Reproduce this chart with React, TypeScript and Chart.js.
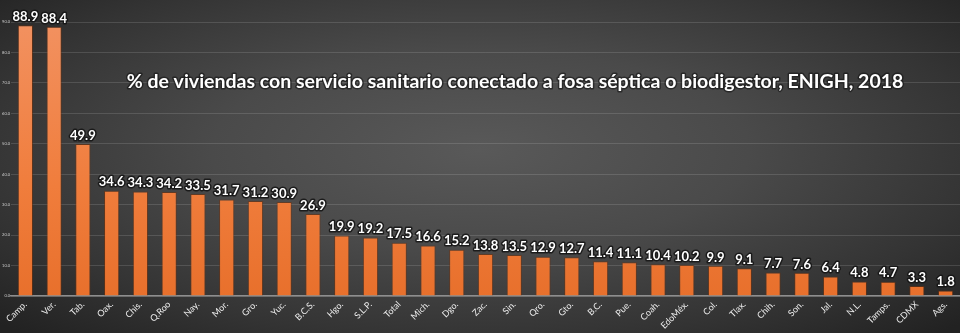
import { useEffect, useRef } from 'react';
import { Chart, registerables } from 'chart.js';

Chart.register(...registerables);

const categories = [
  'Camp.', 'Ver.', 'Tab.', 'Oax.', 'Chis.', 'Q.Roo', 'Nay.', 'Mor.', 'Gro.', 'Yuc.', 'B.C.S.',
  'Hgo.', 'S.L.P.', 'Total', 'Mich.', 'Dgo.', 'Zac.', 'Sin.', 'Qro.', 'Gto.', 'B.C.', 'Pue.',
  'Coah.', 'EdoMéx.', 'Col.', 'Tlax.', 'Chih.', 'Son.', 'Jal.', 'N.L.', 'Tamps.', 'CDMX', 'Ags.',
];
const values = [
  88.9, 88.4, 49.9, 34.6, 34.3, 34.2, 33.5, 31.7, 31.2, 30.9, 26.9,
  19.9, 19.2, 17.5, 16.6, 15.2, 13.8, 13.5, 12.9, 12.7, 11.4, 11.1,
  10.4, 10.2, 9.9, 9.1, 7.7, 7.6, 6.4, 4.8, 4.7, 3.3, 1.8,
];
const yMin = 0;
const yMax = 90;
const yStep = 10;
const title = '% de viviendas con servicio sanitario conectado a fosa séptica o biodigestor, ENIGH, 2018';

const FONT = 'Lato, "Open Sans", sans-serif';

const labelPlugin = {
  id: 'valueLabels',
  afterDatasetsDraw(chart: any) {
    const ctx = chart.ctx;
    const meta = chart.getDatasetMeta(0);
    ctx.save();
    ctx.font = `bold 13px ${FONT}`;
    ctx.textAlign = 'center';
    ctx.textBaseline = 'bottom';
    meta.data.forEach((bar: any, i: number) => {
      const txt = values[i].toFixed(1);
      ctx.lineJoin = 'round';
      ctx.lineWidth = 3;
      ctx.strokeStyle = 'rgba(20,20,20,0.85)';
      ctx.strokeText(txt, bar.x, bar.y - 2);
      ctx.fillStyle = '#ffffff';
      ctx.fillText(txt, bar.x, bar.y - 2);
    });
    ctx.restore();
  },
};

const titlePlugin = {
  id: 'titleText',
  afterDraw(chart: any) {
    const ctx = chart.ctx;
    ctx.save();
    ctx.font = `bold 19.5px ${FONT}`;
    ctx.textAlign = 'center';
    ctx.textBaseline = 'middle';
    ctx.lineJoin = 'round';
    ctx.lineWidth = 3;
    ctx.strokeStyle = 'rgba(20,20,20,0.6)';
    ctx.strokeText(title, 515, 82);
    ctx.fillStyle = '#ffffff';
    ctx.fillText(title, 515, 82);
    ctx.restore();
  },
};

export default function App() {
  const ref = useRef<HTMLCanvasElement | null>(null);

  useEffect(() => {
    document.body.style.margin = '0';
    const canvas = ref.current;
    if (!canvas) return;
    const chart = new Chart(canvas, {
      type: 'bar',
      data: {
        labels: categories,
        datasets: [
          {
            data: values,
            backgroundColor: (c: any) => {
              const area = c.chart.chartArea;
              if (!area) return '#ee7d3b';
              const g = c.chart.ctx.createLinearGradient(0, area.top, 0, area.bottom);
              g.addColorStop(0, '#f29160');
              g.addColorStop(0.6, '#f07d3c');
              g.addColorStop(1, '#e8702c');
              return g;
            },
            borderColor: 'rgba(120,50,10,0.55)',
            borderWidth: 1,
            categoryPercentage: 1,
            barPercentage: 0.53,
          },
        ],
      },
      options: {
        responsive: false,
        animation: false,
        layout: { padding: { top: 22, right: 0, left: 0, bottom: 0 } },
        plugins: {
          legend: { display: false },
          tooltip: { enabled: false },
          title: { display: false },
        },
        scales: {
          x: {
            grid: { display: false, drawTicks: false },
            border: { display: true, color: '#8e8e8e', width: 1.5 },
            ticks: {
              color: '#ececec',
              font: { family: FONT, size: 9 },
              minRotation: 45,
              maxRotation: 45,
              autoSkip: false,
              padding: 3,
            },
            afterFit: (s: any) => {
              s.height = 37;
            },
          },
          y: {
            min: yMin,
            max: yMax,
            grid: { color: 'rgba(255,255,255,0.13)', lineWidth: 1, drawTicks: false },
            border: { display: false },
            ticks: {
              stepSize: yStep,
              color: '#cfcfcf',
              font: { family: FONT, size: 4 },
              padding: 1,
              callback: (v: any) => Number(v).toFixed(1),
            },
            afterFit: (s: any) => {
              s.width = 11;
            },
          },
        },
      },
      plugins: [labelPlugin, titlePlugin],
    } as any);
    return () => chart.destroy();
  }, []);

  return (
    <div
      style={{
        width: 960,
        height: 333,
        background:
          'radial-gradient(ellipse 70% 75% at 50% 45%, #595959 0%, #4a4a4a 40%, #343434 75%, #222222 100%)',
      }}
    >
      <canvas ref={ref} width={960} height={333} style={{ display: 'block' }} />
    </div>
  );
}
